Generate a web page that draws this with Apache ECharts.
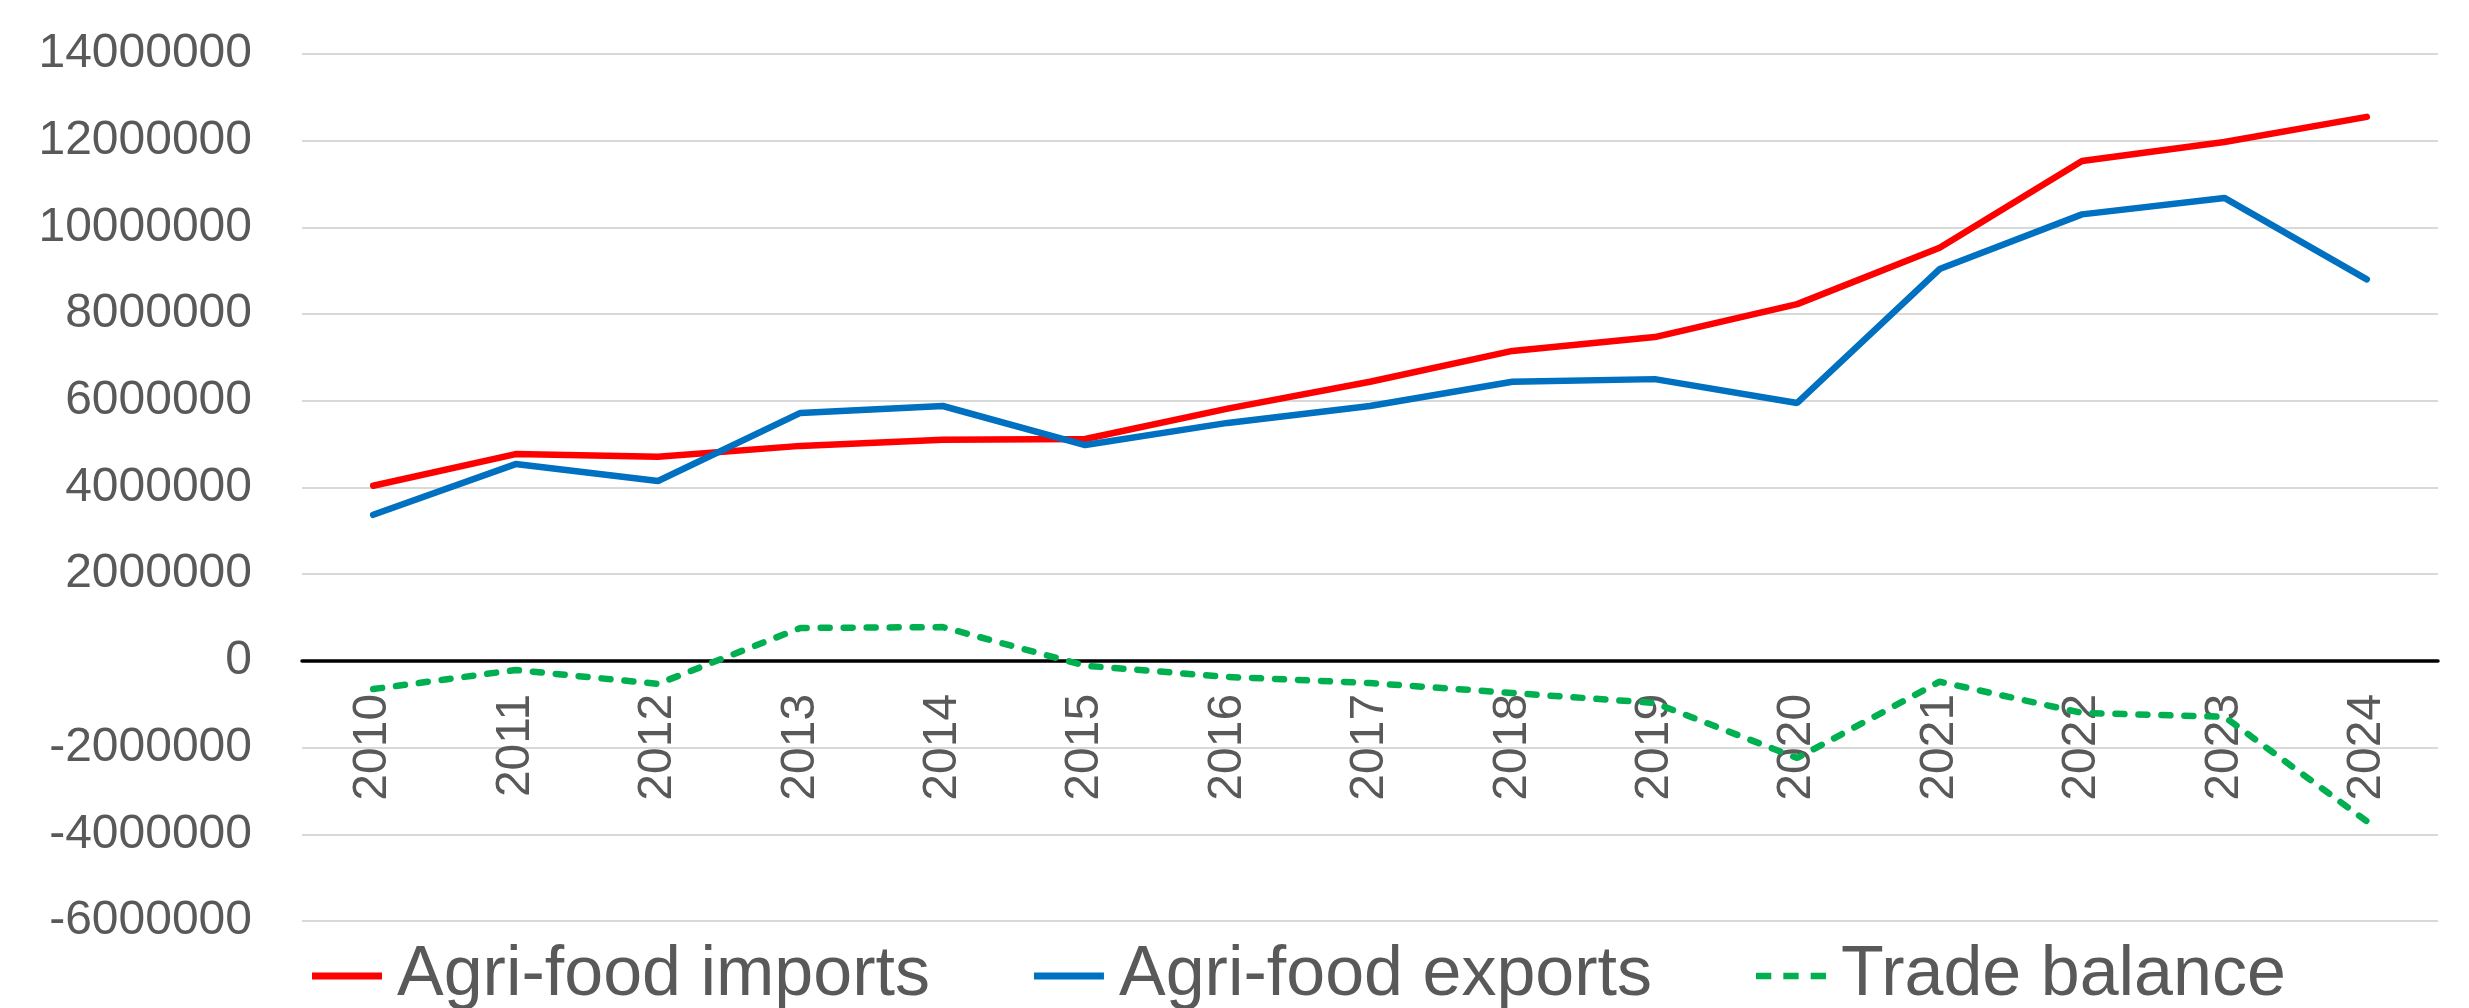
<!DOCTYPE html>
<html>
<head>
<meta charset="utf-8">
<script src="https://cdn.jsdelivr.net/npm/echarts@6/dist/echarts.min.js"></script>
<style>
html,body{margin:0;padding:0;background:#fff;}
#chart{width:2469px;height:1008px;}
</style>
</head>
<body>
<div id="chart"></div>
<script>
const years = ['2010','2011','2012','2013','2014','2015','2016','2017','2018','2019','2020','2021','2022','2023','2024'];
const imports = [4040000,4770000,4710000,4960000,5100000,5120000,5820000,6440000,7150000,7470000,8230000,9530000,11530000,11970000,12550000];
const exports = [3370000,4540000,4150000,5720000,5880000,4980000,5490000,5880000,6440000,6500000,5950000,9040000,10300000,10680000,8800000];
const balance = [-650000,-210000,-530000,760000,780000,-110000,-370000,-510000,-740000,-970000,-2240000,-480000,-1200000,-1290000,-3700000];
const seriesNames = ['Agri-food imports','Agri-food exports','Trade balance'];
const yMin = -6000000, yMax = 14000000, yStep = 2000000;

const gridTop = 54, gridBottom = 87, chartH = 1008;
const plotH = chartH - gridTop - gridBottom;
// position the category axis at value 0
const zeroOffset = -plotH * (0 - yMin) / (yMax - yMin);

const chart = echarts.init(document.getElementById('chart'));
const font = 'Liberation Sans, Arial, sans-serif';
chart.setOption({
  animation: false,
  backgroundColor: '#ffffff',
  grid: {left: 302, right: 31, top: gridTop, bottom: gridBottom, containLabel: false},
  legend: {
    data: [
      {name: seriesNames[0], icon: 'rect'},
      {name: seriesNames[1], icon: 'rect'},
      {name: seriesNames[2], icon: 'path://M0,0h14v6h-14z M25,0h14v6h-14z M50,0h14v6h-14z'}
    ],
    left: 307, top: 936,
    itemWidth: 70, itemHeight: 7, itemGap: 104,
    textStyle: {fontFamily: font, fontSize: 70, color: '#595959', padding: [0,0,0,10]}
  },
  xAxis: {
    type: 'category',
    data: years,
    boundaryGap: true,
    position: 'bottom',
    offset: zeroOffset,
    axisLine: {onZero: false, lineStyle: {color: '#000000', width: 3.5}},
    axisTick: {show: false},
    axisLabel: {rotate: 90, margin: 33, fontFamily: font, fontSize: 48, color: '#595959'},
    splitLine: {show: false}
  },
  yAxis: {
    type: 'value',
    min: yMin, max: yMax, interval: yStep,
    axisLine: {show: false},
    axisTick: {show: false},
    axisLabel: {margin: 50, fontFamily: font, fontSize: 48, color: '#595959',
      formatter: function (v) { return String(v); }},
    splitLine: {lineStyle: {color: '#D9D9D9', width: 1.8}}
  },
  series: [
    {name: seriesNames[0], type: 'line', data: imports, symbol: 'none', color: '#FF0000',
     lineStyle: {color: '#FF0000', width: 6.5, cap: 'round'}, z: 3},
    {name: seriesNames[1], type: 'line', data: exports, symbol: 'none', color: '#0070C0',
     lineStyle: {color: '#0070C0', width: 6.5, cap: 'round'}, z: 3},
    {name: seriesNames[2], type: 'line', data: balance, symbol: 'none', color: '#00B050',
     lineStyle: {color: '#00B050', width: 6.5, type: [9, 14], cap: 'round'}, z: 3}
  ]
});
</script>
</body>
</html>
